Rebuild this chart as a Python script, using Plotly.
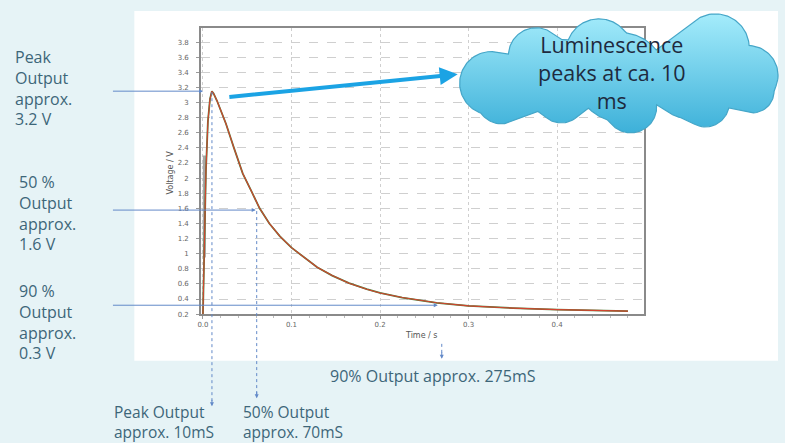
"""Luminescence decay slide: voltage vs time with annotated peak / 50 % / 90 % points."""

import numpy as np
import plotly.graph_objects as go

W, H = 785, 443

time_s = [0.0, 0.001, 0.002, 0.0034, 0.0056, 0.008, 0.0101, 0.012, 0.016, 0.020,
          0.026, 0.035, 0.045, 0.055, 0.064, 0.075, 0.087, 0.100, 0.115, 0.129,
          0.146, 0.165, 0.185, 0.200, 0.225, 0.250, 0.264, 0.300, 0.350, 0.400,
          0.450, 0.480]
voltage = [0.20, 0.90, 1.50, 2.10, 2.75, 3.05, 3.15, 3.12, 3.02, 2.91,
           2.72, 2.40, 2.06, 1.82, 1.60, 1.40, 1.23, 1.08, 0.94, 0.82,
           0.71, 0.61, 0.53, 0.48, 0.42, 0.37, 0.35, 0.31, 0.28, 0.26,
           0.25, 0.24]
rise_t = [0.0016, 0.0016]
rise_v = [0.95, 2.30]

x_tickvals = [0.0, 0.1, 0.2, 0.3, 0.4]
x_ticktext = ["0.0", "0.1", "0.2", "0.3", "0.4"]

# (left x, top y, font size, lines) in slide pixels
notes = [
    (9, 44, 16, ["Peak", "Output", "approx.", "3.2 V"]),
    (13, 171, 16, ["50 %", "Output", "approx.", "1.6 V"]),
    (13, 281, 16, ["90 %", "Output", "approx.", "0.3 V"]),
    (109, 403, 15.5, ["Peak Output", "approx. 10mS"]),
    (238, 403, 15.5, ["50% Output", "approx. 70mS"]),
    (326, 366, 16, ["90% Output approx. 275mS"]),
]
cloud_lines = ["Luminescence", "peaks at ca. 10", "ms"]

TXT = "#3d6679"
GUIDE = "#6289c8"
BG = "#e6f3f6"

# plot box in pixels
L, R, T, B = 198, 643, 28, 317


def px(x):
    return x / W


def py(y):
    return 1 - y / H


fig = go.Figure()

fig.add_trace(go.Scatter(x=rise_t, y=rise_v, mode="lines",
                         line=dict(color="#a8a8a8", width=3), hoverinfo="skip"))
fig.add_trace(go.Scatter(x=time_s, y=voltage, mode="lines",
                         line=dict(color="#4f7f3c", width=1.8), hoverinfo="skip"))
fig.add_trace(go.Scatter(x=time_s, y=voltage, mode="lines", name="Voltage",
                         line=dict(color="#d2442f", width=1.1)))

# cloud outline: union of puffs, traced radially from its centre
puffs = [(490, 84, 32), (535, 56, 28), (598, 52, 33), (715, 48, 34), (748, 76, 30),
         (752, 92, 22), (705, 104, 24), (630, 108, 26), (560, 100, 24), (500, 100, 25),
         (560, 80, 40), (620, 78, 45), (690, 80, 40)]
ccx, ccy = 617, 80
ang = np.linspace(0, 2 * np.pi, 721)
cloud_x, cloud_y = [], []
for a in ang:
    ux, uy = np.cos(a), np.sin(a)
    best = 0.0
    for qx, qy, r in puffs:
        dx, dy = qx - ccx, qy - ccy
        b = ux * dx + uy * dy
        disc = r * r - (dx * dx + dy * dy) + b * b
        if disc >= 0:
            best = max(best, b + np.sqrt(disc))
    cloud_x.append(ccx + best * ux)
    cloud_y.append(ccy + best * uy)

fig.add_trace(go.Scatter(
    x=cloud_x, y=cloud_y, xaxis="x2", yaxis="y2", mode="lines", fill="toself",
    line=dict(color="#45a6c8", width=1.2),
    fillgradient=dict(type="vertical", start=14, stop=136,
                      colorscale=[[0, "#a4ecfb"], [1, "#3aafd8"]]),
    hoverinfo="skip",
))

shapes = [
    # white slide panel
    dict(type="rect", xref="paper", yref="paper", x0=px(131), x1=px(778),
         y0=py(364), y1=py(11), fillcolor="white", line_width=0, layer="below"),
    # dotted drop lines
    dict(type="line", xref="x2", yref="y2", x0=209, x1=209, y0=93, y1=406,
         line=dict(color=GUIDE, width=1, dash="dot")),
    dict(type="line", xref="x2", yref="y2", x0=254, x1=254, y0=213, y1=398,
         line=dict(color=GUIDE, width=1, dash="dot")),
    dict(type="line", xref="x2", yref="y2", x0=440, x1=440, y0=347, y1=358,
         line=dict(color=GUIDE, width=1, dash="dot")),
]

annotations = []
for x0, y0, fs, lines in notes:
    annotations.append(dict(x=x0, y=y0, xref="x2", yref="y2", text="<br>".join(lines),
                            showarrow=False, xanchor="left", yanchor="top", align="left",
                            font=dict(family="Open Sans", size=fs, color=TXT)))

annotations.append(dict(x=611, y=73, xref="x2", yref="y2", text="<br>".join(cloud_lines),
                        showarrow=False, xanchor="center", yanchor="middle",
                        font=dict(family="Open Sans", size=21.5, color="#1e2a3e")))

# horizontal guide arrows from the left-hand notes
for y, xe in [(92, 200), (212, 253), (308, 436)]:
    annotations.append(dict(x=xe, y=y, ax=108, ay=y, xref="x2", yref="y2",
                            axref="x2", ayref="y2", text="", showarrow=True,
                            arrowhead=2, arrowsize=0.8, arrowwidth=1,
                            arrowcolor=GUIDE, standoff=0))
# small heads on the dotted drop lines
for xx, y0, y1 in [(209, 402, 410), (254, 394, 402), (440, 354, 362)]:
    annotations.append(dict(x=xx, y=y1, ax=xx, ay=y0, xref="x2", yref="y2",
                            axref="x2", ayref="y2", text="", showarrow=True,
                            arrowhead=2, arrowsize=0.8, arrowwidth=1,
                            arrowcolor=GUIDE, standoff=0))
# big blue arrow towards the cloud
annotations.append(dict(x=456, y=75, ax=225, ay=98, xref="x2", yref="y2",
                        axref="x2", ayref="y2", text="", showarrow=True,
                        arrowhead=2, arrowsize=0.9, arrowwidth=4,
                        arrowcolor="#1ba3e4", standoff=0))
# axis titles
annotations.append(dict(x=167, y=174, xref="x2", yref="y2", text="Voltage / V",
                        showarrow=False, textangle=-90,
                        font=dict(family="DejaVu Sans", size=8, color="#555")))
annotations.append(dict(x=420, y=339, xref="x2", yref="y2", text="Time / s",
                        showarrow=False,
                        font=dict(family="DejaVu Sans", size=8, color="#555")))

tick_font = dict(family="DejaVu Sans", size=7, color="#666")
fig.update_layout(
    width=W, height=H,
    margin=dict(l=0, r=0, t=0, b=0),
    paper_bgcolor=BG,
    plot_bgcolor="rgba(0,0,0,0)",
    showlegend=False,
    shapes=shapes,
    annotations=annotations,
    xaxis=dict(domain=[px(L), px(R)], range=[-0.0022, 0.4978],
               tickvals=x_tickvals, ticktext=x_ticktext, tickfont=tick_font,
               ticks="outside", ticklen=3, tickcolor="#999",
               minor=dict(ticks="outside", dtick=0.02, ticklen=2, tickcolor="#bbb"),
               showgrid=True, gridcolor="#cfcfcf", griddash="dot", gridwidth=1,
               showline=True, linecolor="#8a8a8a", linewidth=1.5, mirror=True,
               zeroline=False, anchor="y"),
    yaxis=dict(domain=[py(B), py(T)], range=[0.2, 3.99], dtick=0.2, tick0=0.2,
               tickfont=tick_font, ticks="outside", ticklen=3, tickcolor="#999",
               ticklabelstandoff=6,
               showgrid=True, gridcolor="#cfcfcf", griddash="dash", gridwidth=1,
               showline=True, linecolor="#8a8a8a", linewidth=1.5, mirror=True,
               zeroline=False, anchor="x"),
    xaxis2=dict(domain=[0, 1], range=[0, W], visible=False, anchor="y2"),
    yaxis2=dict(domain=[0, 1], range=[H, 0], visible=False, anchor="x2"),
)

# the page's default 8px body margin would shift the whole slide
fig.write_html("out.html", config={"displayModeBar": False},
               post_script="document.body.style.margin='0';"
                           f"document.body.style.background='{BG}';")
